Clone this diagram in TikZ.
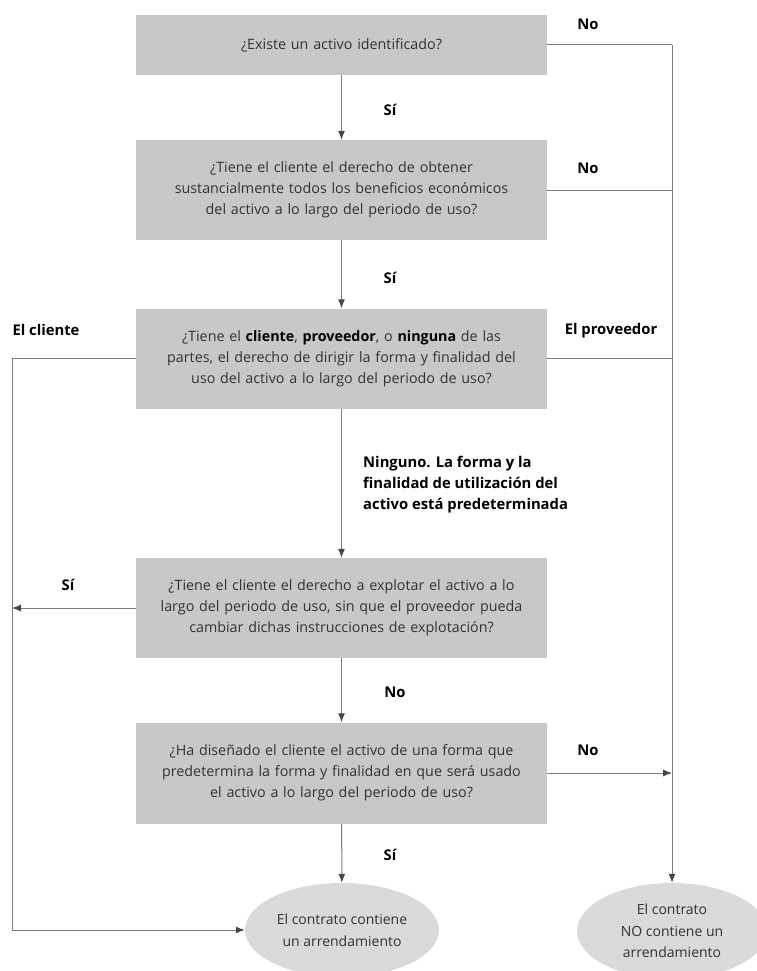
\documentclass[tikz,border=0pt]{standalone}
\usepackage{fontspec}
\setmainfont{Open Sans}
\usetikzlibrary{arrows.meta,shapes.geometric}
\definecolor{boxgray}{RGB}{200,200,200}
\definecolor{ellgray}{RGB}{218,218,218}
\definecolor{linegray}{RGB}{125,125,125}
\definecolor{headgray}{RGB}{70,70,70}
\definecolor{txtgray}{RGB}{50,50,50}
\tikzset{
  qbox/.style={fill=boxgray, draw=none, minimum width=411pt, text width=405pt, align=center, inner sep=0pt, text=txtgray, font=\fontsize{14.3}{21}\selectfont},
  endell/.style={ellipse, fill=ellgray, draw=none, align=center, inner sep=0pt, text=txtgray, font=\fontsize{14}{21.5}\selectfont},
  conn/.style={draw=linegray, line width=1pt},
  arr/.style={conn, -{Latex[length=9pt,width=7pt,color=headgray]}},
  lbl/.style={font=\bfseries\fontsize{14.8}{21}\selectfont, text=black, inner sep=0pt}
}
\begin{document}
\begin{tikzpicture}[x=1pt,y=-1pt]
\useasboundingbox (0,0) rectangle (757,971);
% boxes
\node[qbox, minimum height=60pt] (b1) at (341.5,45) {¿Existe un activo identificado?};
\node[qbox, minimum height=100pt] (b2) at (341.5,190) {¿Tiene el cliente el derecho de obtener\\sustancialmente todos los beneficios económicos\\del activo a lo largo del periodo de uso?};
\node[qbox, minimum height=100pt] (b3) at (341.5,358.5) {¿Tiene el \textbf{\color{black}cliente}, \textbf{\color{black}proveedor}, o \textbf{\color{black}ninguna} de las\\partes, el derecho de dirigir la forma y finalidad del\\uso del activo a lo largo del periodo de uso?};
\node[qbox, minimum height=100pt] (b4) at (341.5,608) {¿Tiene el cliente el derecho a explotar el activo a lo\\largo del periodo de uso, sin que el proveedor pueda\\cambiar dichas instrucciones de explotación?};
\node[qbox, minimum height=101pt] (b5) at (341.5,773) {¿Ha diseñado el cliente el activo de una forma que\\predetermina la forma y finalidad en que será usado\\el activo a lo largo del periodo de uso?};
% ellipses
\node[endell, minimum width=194pt, minimum height=94pt] (e1) at (342,930) {El contrato contiene\\un arrendamiento};
\node[endell, minimum width=190pt, minimum height=96pt] (e2) at (672,931) {El contrato\\NO contiene un\\arrendamiento};
% helper coordinates
\coordinate (r1) at (672,45);
\coordinate (r2) at (672,190);
\coordinate (r3) at (672,358.5);
\coordinate (r5) at (672,773);
\coordinate (l3) at (12,358.5);
\coordinate (l4) at (12,608);
\coordinate (l6) at (12,930);
% vertical main flow
\draw[arr] (b1) -- (b2);
\draw[arr] (b2) -- (b3);
\draw[arr] (b3) -- (b4);
\draw[arr] (b4) -- (b5);
\draw[arr] (b5) -- (e1);
% right side
\draw[conn] (b1.east) -- (r1);
\draw[conn] (b2.east) -- (r2);
\draw[conn] (b3.east) -- (r3);
\draw[arr] (r1) -- (e2.north);
\draw[arr] (b5.east) -- (r5);
% left side
\draw[arr] (b3.west) -- (l3) -- (l6) -- (e1.west);
\draw[arr] (b4.west) -- (l4);
% labels
\node[lbl] (s1) at (390,110) {Sí};
\node[lbl] (s2) at (390,278) {Sí};
\node[lbl, align=left, anchor=north west] (ning) at (363,456) {Ninguno. La forma y la\\finalidad de utilización del\\activo está predeterminada};
\node[lbl] (n4) at (395,692) {No};
\node[lbl] (s5) at (390,855) {Sí};
\node[lbl] (n1) at (588,24) {No};
\node[lbl] (n2) at (588,168) {No};
\node[lbl] (prov) at (611,331) {El proveedor};
\node[lbl] (n5) at (588,750) {No};
\node[lbl] (cli) at (46,330) {El cliente};
\node[lbl] (s4) at (68,585) {Sí};
\end{tikzpicture}
\end{document}
